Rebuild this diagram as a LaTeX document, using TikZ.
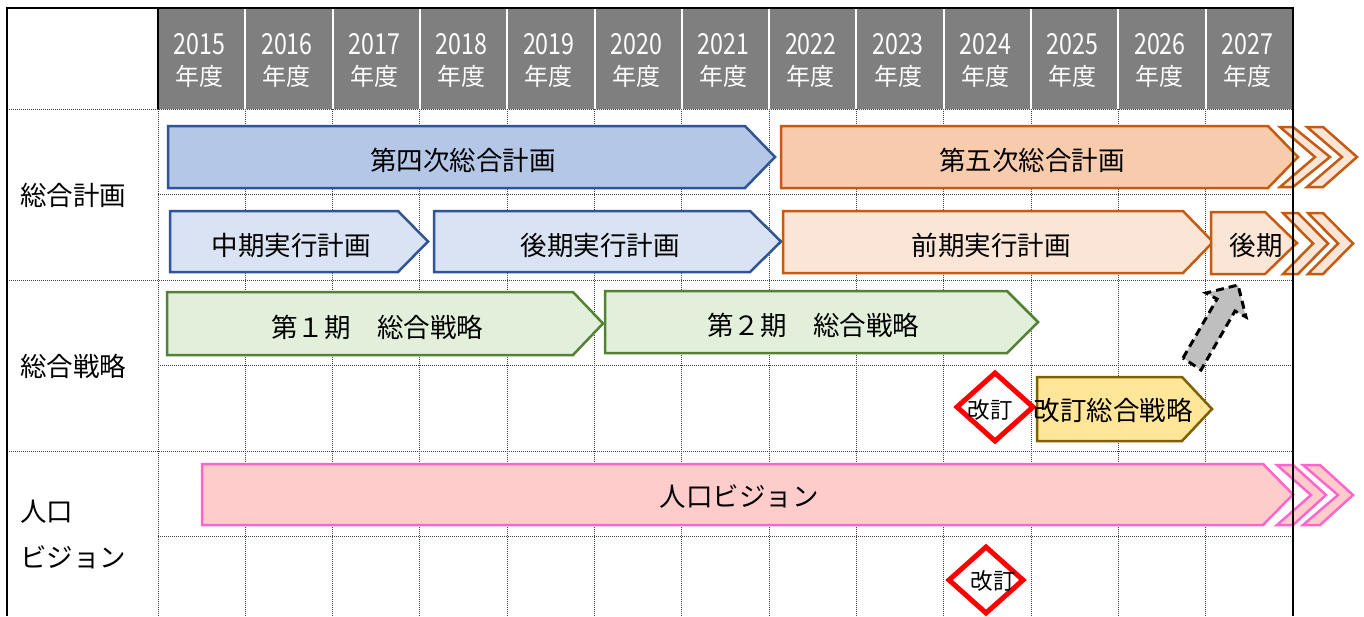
\documentclass[tikz,border=0pt]{standalone}
\usepackage{fontspec}
\usepackage{graphicx}
\newfontfamily\jp{Noto Sans CJK JP}
\definecolor{blueA}{HTML}{B4C7E7}
\definecolor{blueB}{HTML}{DAE3F3}
\definecolor{blueL}{HTML}{2F5597}
\definecolor{orA}{HTML}{F8CBAD}
\definecolor{orB}{HTML}{FBE5D6}
\definecolor{orL}{HTML}{C55A11}
\definecolor{grA}{HTML}{E2EFDA}
\definecolor{grL}{HTML}{548235}
\definecolor{yeA}{HTML}{FFE699}
\definecolor{yeL}{HTML}{7F6000}
\definecolor{pkA}{HTML}{FFCCCC}
\definecolor{pkL}{HTML}{FF66CC}
\definecolor{hdr}{HTML}{7F7F7F}
\definecolor{dgray}{HTML}{BFBFBF}
\newcommand\pentshape[6]{%
  \draw[#1] (#2,#5) -- (#3,#5) -- (#4,{(#5+#6)/2}) -- (#3,#6) -- (#2,#6) -- cycle;}
\newcommand\chevshape[7]{%
  \draw[#1] (#2,#6) -- (#3,#6) -- (#4,{(#6+#7)/2}) -- (#3,#7) -- (#2,#7) -- (#5,{(#6+#7)/2}) -- cycle;}
\begin{document}
\begin{tikzpicture}[x=1pt,y=-1pt,
  gridline/.style={draw=black!75, line width=0.9pt, dash pattern=on 1pt off 1pt},
  frameline/.style={draw=black, line width=2.5pt},
  sepline/.style={draw=white, line width=2pt},
  hdrnum/.style={font={\jp\fontsize{29}{30}\selectfont}, text=white, inner sep=0pt},
  hdrjp/.style={font={\jp\fontsize{24}{26}\selectfont}, text=white, inner sep=0pt},
  txt/.style={font={\jp\fontsize{26.5}{28}\selectfont}, text=black, inner sep=0pt},
  smalltxt/.style={font={\jp\fontsize{22.5}{24}\selectfont}, text=black, inner sep=0pt},
  bdark/.style={fill=blueA, draw=blueL, line width=2.5pt, line join=miter},
  blight/.style={fill=blueB, draw=blueL, line width=2.5pt, line join=miter},
  odark/.style={fill=orA, draw=orL, line width=2.5pt, line join=miter},
  olight/.style={fill=orB, draw=orL, line width=2.5pt, line join=miter},
  gbox/.style={fill=grA, draw=grL, line width=2.5pt, line join=miter},
  ybox/.style={fill=yeA, draw=yeL, line width=2.5pt, line join=miter},
  pbox/.style={fill=pkA, draw=pkL, line width=2.5pt, line join=miter},
  revmark/.style={fill=white, draw=red, line width=5pt, line join=miter},
  dasharrow/.style={fill=dgray, draw=black, line width=3pt, dash pattern=on 8pt off 5pt, line join=miter}
]
\useasboundingbox (0,0) rectangle (1364,616);
\fill[white] (0,0) rectangle (1364,616);
% header
\fill[hdr] (158,8) rectangle (1293,109);
\foreach \i in {1,...,12} {
  \pgfmathsetmacro\xs{158+87.3*\i}
  \draw[sepline] (\xs,8) -- (\xs,109);
}
\foreach \i in {0,...,12} {
  \pgfmathsetmacro\xc{158+87.3*(\i+0.5)}
  \pgfmathtruncatemacro\yr{2015+\i}
  \node[hdrnum] (yr\i) at (\xc-2,44) {\scalebox{0.8}[1]{\yr}};
  \node[hdrjp] (nd\i) at (\xc-2,76) {年度};
}
% grid
\foreach \i in {0,...,12} {
  \pgfmathsetmacro\xs{158+87.3*\i}
  \draw[gridline] (\xs,109) -- (\xs,616);
}
\foreach \yy in {109,280,451} { \draw[gridline] (7,\yy) -- (1293,\yy); }
\foreach \yy in {194,365,536} { \draw[gridline] (158,\yy) -- (1293,\yy); }
% row labels
\node[txt, anchor=west] (lab1) at (20,195) {総合計画};
\node[txt, anchor=west] (lab2) at (20,366) {総合戦略};
\node[txt, anchor=west] (lab3a) at (20,512) {人口};
\node[txt, anchor=west] (lab3b) at (20,557) {ビジョン};
% general plans
\pentshape{bdark}{168}{745}{775}{126}{188}
\node[txt] (p4) at (463,160) {第四次総合計画};
\chevshape{olight}{1280}{1293}{1330}{1315}{127}{187}
\chevshape{olight}{1307}{1323}{1357}{1342}{127}{187}
\pentshape{odark}{781}{1268}{1298}{126}{188}
\node[txt] (p5) at (1032,160) {第五次総合計画};
\pentshape{blight}{170}{398}{428}{211}{272}
\node[txt] (m1) at (291,245) {中期実行計画};
\pentshape{blight}{434}{750}{781}{211}{272}
\node[txt] (m2) at (600,245) {後期実行計画};
\pentshape{olight}{783}{1183}{1213}{211}{273}
\node[txt] (m3) at (991,245) {前期実行計画};
\chevshape{olight}{1283}{1298}{1328}{1313}{213}{274}
\chevshape{olight}{1308}{1323}{1353}{1338}{213}{274}
\pentshape{olight}{1211}{1265}{1297}{212}{274}
\node[txt] (m4) at (1256,245) {後期};
% strategies
\pentshape{gbox}{167}{573}{603}{292}{355}
\node[txt] (s1) at (377,327) {第１期　総合戦略};
\pentshape{gbox}{605}{1007}{1038}{291}{353}
\node[txt] (s2) at (813,325) {第２期　総合戦略};
\pentshape{ybox}{1037}{1182}{1212}{377}{441}
\draw[revmark] (995,373) -- (1033,407) -- (995,441) -- (957,407) -- cycle;
\node[txt] (s3) at (1113,410) {改訂総合戦略};
\node[smalltxt] (r1) at (990,410) {改訂};
\draw[dasharrow] (1183,358) -- (1217,299) -- (1206,293) -- (1238,285) -- (1246,317) -- (1235,311) -- (1201,370) -- cycle;
% population vision
\chevshape{pbox}{1277}{1293}{1326}{1311}{465}{525}
\chevshape{pbox}{1303}{1320}{1353}{1338}{465}{525}
\pentshape{pbox}{202}{1263}{1293}{464}{525}
\node[txt] (v1) at (739,497) {人口ビジョン};
\draw[revmark] (986,547) -- (1023,580) -- (986,613) -- (949,580) -- cycle;
\node[smalltxt] (r2) at (993,581) {改訂};
% frame
\draw[frameline] (7,616) -- (7,8) -- (1293,8) -- (1293,616);
\draw[draw=black, line width=2pt] (158,8) -- (158,109);
\end{tikzpicture}
\end{document}
